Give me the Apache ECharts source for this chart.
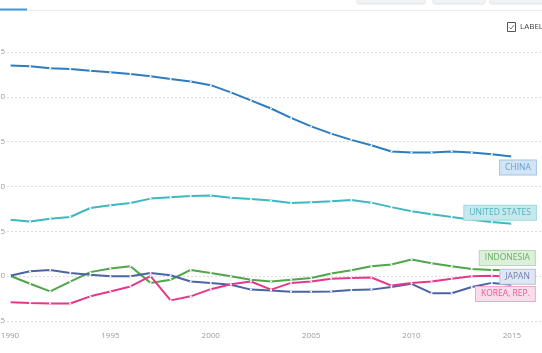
<!DOCTYPE html>
<html>
<head>
<meta charset="utf-8">
<script src="https://cdn.jsdelivr.net/npm/echarts@6/dist/echarts.min.js"></script>
<style>
  html, body { margin: 0; padding: 0; background: #fff; }
  #chart { width: 542px; height: 353px; }
</style>
</head>
<body>
<div id="chart"></div>
<script>
const years = [1990, 1991, 1992, 1993, 1994, 1995, 1996, 1997, 1998, 1999, 2000, 2001, 2002,
  2003, 2004, 2005, 2006, 2007, 2008, 2009, 2010, 2011, 2012, 2013, 2014, 2015];

const china = [33.5, 33.4, 33.2, 33.1, 32.9, 32.75, 32.55, 32.3, 32.0, 31.7, 31.3, 30.5, 29.6,
  28.7, 27.65, 26.7, 25.9, 25.2, 24.6, 23.9, 23.8, 23.8, 23.9, 23.8, 23.6, 23.35];
const unitedStates = [16.3, 16.1, 16.4, 16.6, 17.6, 17.9, 18.15, 18.65, 18.8, 18.95, 19.0, 18.75, 18.6,
  18.45, 18.15, 18.25, 18.35, 18.5, 18.2, 17.7, 17.25, 16.9, 16.6, 16.3, 16.05, 15.85];
const indonesia = [10.05, 9.15, 8.3, 9.4, 10.45, 10.85, 11.1, 9.25, 9.6, 10.7, 10.35, 10.0, 9.6,
  9.4, 9.6, 9.8, 10.3, 10.65, 11.1, 11.3, 11.85, 11.45, 11.1, 10.8, 10.7, 10.7];
const japan = [10.05, 10.55, 10.7, 10.35, 10.15, 10.0, 10.0, 10.35, 10.1, 9.4, 9.25, 9.05, 8.5,
  8.4, 8.25, 8.25, 8.3, 8.45, 8.5, 8.8, 9.15, 8.1, 8.1, 8.8, 9.25, 9.05];
const korea = [7.1, 7.0, 6.95, 6.95, 7.75, 8.3, 8.85, 10.0, 7.3, 7.75, 8.55, 9.1, 9.4,
  8.5, 9.25, 9.4, 9.7, 9.8, 9.85, 8.95, 9.25, 9.4, 9.7, 10.0, 10.05, 9.9];

const yTicks = [5, 10, 15, 20, 25, 30, 35];

const seriesInfo = [
  { name: 'CHINA', values: china, color: '#2d7cbf', bg: '#d3e5f4', border: '#9cc4e4', text: '#5b9fd4', pos: [25, 12] },
  { name: 'UNITED STATES', values: unitedStates, color: '#3fb8c3', bg: '#c6e9ee', border: '#9ed6de', text: '#4fb1bd', pos: [25, -10] },
  { name: 'INDONESIA', values: indonesia, color: '#4fa64b', bg: '#dcefda', border: '#b3dcb0', text: '#6aad66', pos: [24, -11] },
  { name: 'JAPAN', values: japan, color: '#4b64a3', bg: '#e1e6f2', border: '#b5c0dc', text: '#6b7fb2', pos: [24, -7] },
  { name: 'KOREA, REP.', values: korea, color: '#e6388a', bg: '#fbdcea', border: '#f0a9c9', text: '#e0609a', pos: [24, 18] }
];

const series = seriesInfo.map((s) => ({
  name: s.name,
  type: 'line',
  symbol: 'circle',
  symbolSize: 2,
  showSymbol: true,
  silent: true,
  itemStyle: { color: '#fff', borderWidth: 0 },
  lineStyle: { color: s.color, width: 2 },
  z: 3,
  data: s.values.map((v, i) => {
    const item = { value: [years[i], v] };
    if (i === s.values.length - 1) {
      item.label = {
        show: true,
        formatter: s.name,
        position: s.pos,
        align: 'right',
        verticalAlign: 'middle',
        color: s.text,
        fontSize: 8.5,
        fontFamily: 'Open Sans',
        backgroundColor: s.bg,
        borderColor: s.border,
        borderWidth: 1,
        padding: [3, 5, 2, 5]
      };
    }
    return item;
  })
}));

const chart = echarts.init(document.getElementById('chart'), null, { renderer: 'canvas' });

chart.setOption({
  animation: false,
  backgroundColor: '#fff',
  grid: { left: 7, right: 0, top: 52, bottom: 32, containLabel: false, outerBoundsMode: 'none' },
  xAxis: {
    type: 'value',
    min: 1989.85,
    max: 2016.5,
    axisLine: { show: false },
    axisTick: { show: false },
    splitLine: { show: false },
    axisLabel: {
      margin: 11,
      fontSize: 8,
      fontFamily: 'Open Sans',
      color: '#9a9a9a',
      formatter: (v) => (v % 5 === 0 ? String(v) : '')
    }
  },
  yAxis: {
    type: 'value',
    min: yTicks[0],
    max: yTicks[yTicks.length - 1],
    interval: 5,
    axisLine: { show: false },
    axisTick: { show: false },
    axisLabel: {
      margin: 2,
      fontSize: 8,
      fontFamily: 'Open Sans',
      color: '#9a9a9a'
    },
    splitLine: { lineStyle: { color: '#dcdcdc', type: [2, 2], width: 1 } }
  },
  graphic: [
    { type: 'rect', shape: { x: 0, y: 10, width: 542, height: 1 }, style: { fill: '#e8ecef' } },
    { type: 'rect', shape: { x: 0, y: 8.5, width: 27, height: 2 }, style: { fill: '#3f9ad6' } },
    { type: 'rect', shape: { x: 357, y: -3, width: 68, height: 7, r: 2 }, style: { fill: '#f1f2f4', stroke: '#e2e4e7' } },
    { type: 'rect', shape: { x: 433, y: -3, width: 52, height: 7, r: 2 }, style: { fill: '#f1f2f4', stroke: '#e2e4e7' } },
    { type: 'rect', shape: { x: 490, y: -3, width: 55, height: 7, r: 2 }, style: { fill: '#f1f2f4', stroke: '#e2e4e7' } },
    { type: 'rect', shape: { x: 507.5, y: 22.5, width: 8, height: 9 }, style: { fill: '#fff', stroke: '#555', lineWidth: 1 } },
    { type: 'polyline', shape: { points: [[509.5, 27.5], [511, 29], [514, 25]] }, style: { stroke: '#555', lineWidth: 0.8, fill: null } },
    { type: 'text', x: 520, y: 27, style: { text: 'LABEL', fontSize: 8, fontFamily: 'Open Sans', fill: '#444', verticalAlign: 'middle' } }
  ],
  series: series
});

window.onresize = function () {
  chart.resize();
};
</script>
</body>
</html>
